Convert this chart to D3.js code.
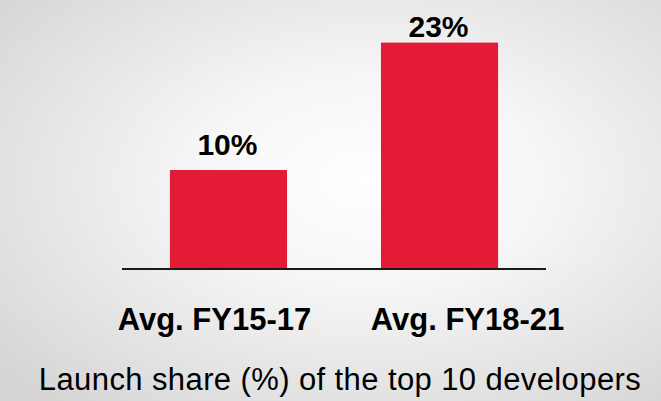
<!DOCTYPE html>
<html>
<head>
<meta charset="utf-8">
<script src="https://cdn.jsdelivr.net/npm/d3@7"></script>
<style>
  html, body { margin: 0; padding: 0; }
  body { width: 661px; height: 401px; overflow: hidden; }
  svg text { font-family: "Liberation Sans", Arial, sans-serif; fill: #000; }
</style>
</head>
<body>
<div id="chart"></div>
<script>
var categories = ["Avg. FY15-17", "Avg. FY18-21"];
var shares = [10, 23];
var valueLabels = ["10%", "23%"];
var caption = "Launch share (%) of the top 10 developers";

var w = 661, h = 401;
var baseY = 268;
// label nudges as seen in the original slide
var catShift = [-14, 28];
var valueGap = [15, 6];

var svg = d3.select("#chart").append("svg")
  .attr("width", w)
  .attr("height", h);

var defs = svg.append("defs");
var grad = defs.append("radialGradient")
  .attr("id", "bg")
  .attr("cx", "0.56").attr("cy", "0.45").attr("r", "0.75");
grad.append("stop").attr("offset", "0").attr("stop-color", "#ffffff");
grad.append("stop").attr("offset", "0.35").attr("stop-color", "#f6f6f6");
grad.append("stop").attr("offset", "1").attr("stop-color", "#d4d4d4");

svg.append("rect")
  .attr("width", w).attr("height", h)
  .attr("fill", "url(#bg)");

var xScale = d3.scaleBand()
  .domain(categories)
  .range([122, 546])
  .paddingInner(0.445)
  .paddingOuter(0.227);

var yScale = d3.scaleLinear()
  .domain([0, 25])
  .range([baseY, baseY - 245]);

svg.selectAll(".bar")
  .data(shares)
  .enter().append("rect")
  .attr("class", "bar")
  .attr("x", function(d, i) { return xScale(categories[i]); })
  .attr("width", xScale.bandwidth())
  .attr("y", function(d) { return yScale(d); })
  .attr("height", function(d) { return yScale(0) - yScale(d); })
  .attr("fill", "#e31b37");

svg.append("line")
  .attr("x1", xScale.range()[0])
  .attr("x2", xScale.range()[1])
  .attr("y1", baseY + 1)
  .attr("y2", baseY + 1)
  .attr("stroke", "#1a1a1a")
  .attr("stroke-width", 2);

svg.selectAll(".value")
  .data(shares)
  .enter().append("text")
  .attr("class", "value")
  .attr("x", function(d, i) { return xScale(categories[i]) + xScale.bandwidth() / 2 - 1; })
  .attr("y", function(d, i) { return yScale(d) - valueGap[i]; })
  .attr("text-anchor", "middle")
  .attr("font-size", "30px")
  .attr("font-weight", "bold")
  .text(function(d, i) { return valueLabels[i]; });

svg.selectAll(".cat")
  .data(categories)
  .enter().append("text")
  .attr("class", "cat")
  .attr("x", function(d, i) { return xScale(d) + xScale.bandwidth() / 2 + catShift[i]; })
  .attr("y", 330)
  .attr("text-anchor", "middle")
  .attr("font-size", "31px")
  .attr("font-weight", "bold")
  .text(function(d) { return d; });

svg.append("text")
  .attr("x", 340)
  .attr("y", 390)
  .attr("text-anchor", "middle")
  .attr("font-size", "31px")
  .attr("letter-spacing", "0.4px")
  .text(caption);
</script>
</body>
</html>
